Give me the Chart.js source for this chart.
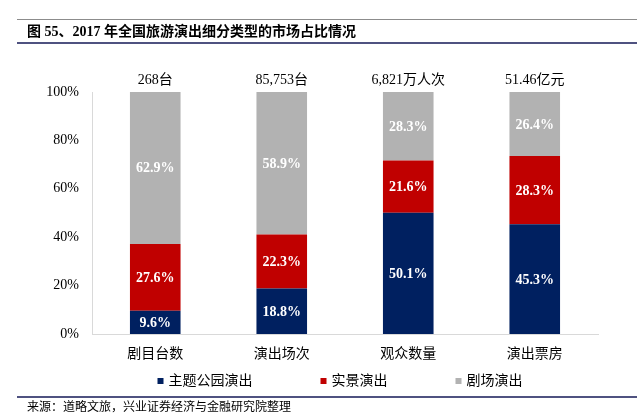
<!DOCTYPE html>
<html>
<head>
<meta charset="utf-8">
<script src="https://cdn.jsdelivr.net/npm/chart.js@4/dist/chart.umd.min.js"></script>
<style>
  body { margin: 0; width: 637px; height: 414px; background: #fff; position: relative; overflow: hidden; }
  #wrap { position: absolute; left: 0; top: 0; width: 637px; height: 414px; }
  .title { position: absolute; left: 17px; right: 0; top: 19px; height: 22px; border-top: 1px solid #8c8c8c; border-bottom: 2px solid #4f5280;
           font: bold 14px "Liberation Serif", "Noto Sans CJK SC", serif; line-height: 23px; padding-left: 10px; color: #000; }
  .source { position: absolute; left: 17px; right: 0; top: 396px; border-top: 2px solid #4f5280;
            font: 12px "Liberation Serif", "Noto Sans CJK SC", serif; padding-left: 10px; line-height: 18px; color: #000; }
</style>
</head>
<body>
<div id="wrap"><canvas id="chart"></canvas></div>
<div class="title">图 55、2017 年全国旅游演出细分类型的市场占比情况</div>
<div class="source">来源：道略文旅，兴业证券经济与金融研究院整理</div>
<script>
const categories = ['剧目台数', '演出场次', '观众数量', '演出票房'];
const totals = ['268台', '85,753台', '6,821万人次', '51.46亿元'];
const themePark = [9.6, 18.8, 50.1, 45.3];
const scenic = [27.6, 22.3, 21.6, 28.3];
const theatre = [62.9, 58.9, 28.3, 26.4];

const serif = '"Liberation Serif", "Noto Sans CJK SC", serif';

// white % labels inside each segment, total above each bar
const labelPlugin = {
  id: 'labels',
  afterDatasetsDraw(chart) {
    const ctx = chart.ctx;
    ctx.save();
    ctx.textAlign = 'center';
    ctx.textBaseline = 'middle';
    chart.data.datasets.forEach((ds, i) => {
      chart.getDatasetMeta(i).data.forEach((bar, j) => {
        ctx.fillStyle = '#fff';
        ctx.font = 'bold 14px ' + serif;
        ctx.fillText(ds.data[j].toFixed(1) + '%', bar.x, (bar.y + bar.base) / 2 + 1);
      });
    });
    ctx.fillStyle = '#000';
    ctx.font = '14px ' + serif;
    chart.getDatasetMeta(2).data.forEach((bar, j) => {
      ctx.fillText(totals[j], bar.x, chart.scales.y.getPixelForValue(100) - 12);
    });
    ctx.restore();
  }
};

// legend in one row under the axis, small square markers
const legendPlugin = {
  id: 'rowLegend',
  afterDraw(chart) {
    const ctx = chart.ctx;
    const box = 6, gap = 5, spacing = 68, y = 381;
    ctx.save();
    ctx.font = '14px ' + serif;
    ctx.textBaseline = 'middle';
    const items = chart.data.datasets.map(ds => ({ text: ds.label, color: ds.backgroundColor, w: box + gap + ctx.measureText(ds.label).width }));
    const total = items.reduce((a, it) => a + it.w, 0) + spacing * (items.length - 1);
    let x = 340 - total / 2;
    items.forEach(it => {
      ctx.fillStyle = it.color;
      ctx.fillRect(x, y - box / 2, box, box);
      ctx.fillStyle = '#000';
      ctx.fillText(it.text, x + box + gap, y);
      x += it.w + spacing;
    });
    ctx.restore();
  }
};

new Chart(document.getElementById('chart'), {
  type: 'bar',
  data: {
    labels: categories,
    datasets: [
      { label: '主题公园演出', data: themePark, backgroundColor: '#002060' },
      { label: '实景演出', data: scenic, backgroundColor: '#c00000' },
      { label: '剧场演出', data: theatre, backgroundColor: '#b2b2b2' }
    ]
  },
  options: {
    responsive: true,
    maintainAspectRatio: false,
    animation: false,
    layout: { padding: { top: 92, right: 39, bottom: 40, left: 0 } },
    datasets: { bar: { barPercentage: 0.8, categoryPercentage: 0.5 } },
    scales: {
      x: {
        stacked: true,
        grid: { display: false, drawTicks: false },
        border: { color: '#d9d9d9' },
        ticks: { color: '#000', font: { family: serif, size: 14 }, padding: 12 },
        afterFit(s) { s.height = 40; }
      },
      y: {
        stacked: true,
        min: 0, max: 100,
        ticks: { stepSize: 20, callback: v => v + '%', color: '#000', font: { family: serif, size: 14 }, padding: 13 },
        grid: { display: false, drawTicks: false },
        border: { color: '#d9d9d9' },
        afterFit(s) { s.width = 92; }
      }
    },
    plugins: {
      tooltip: { enabled: false },
      legend: { display: false }
    }
  },
  plugins: [labelPlugin, legendPlugin]
});
</script>
</body>
</html>
